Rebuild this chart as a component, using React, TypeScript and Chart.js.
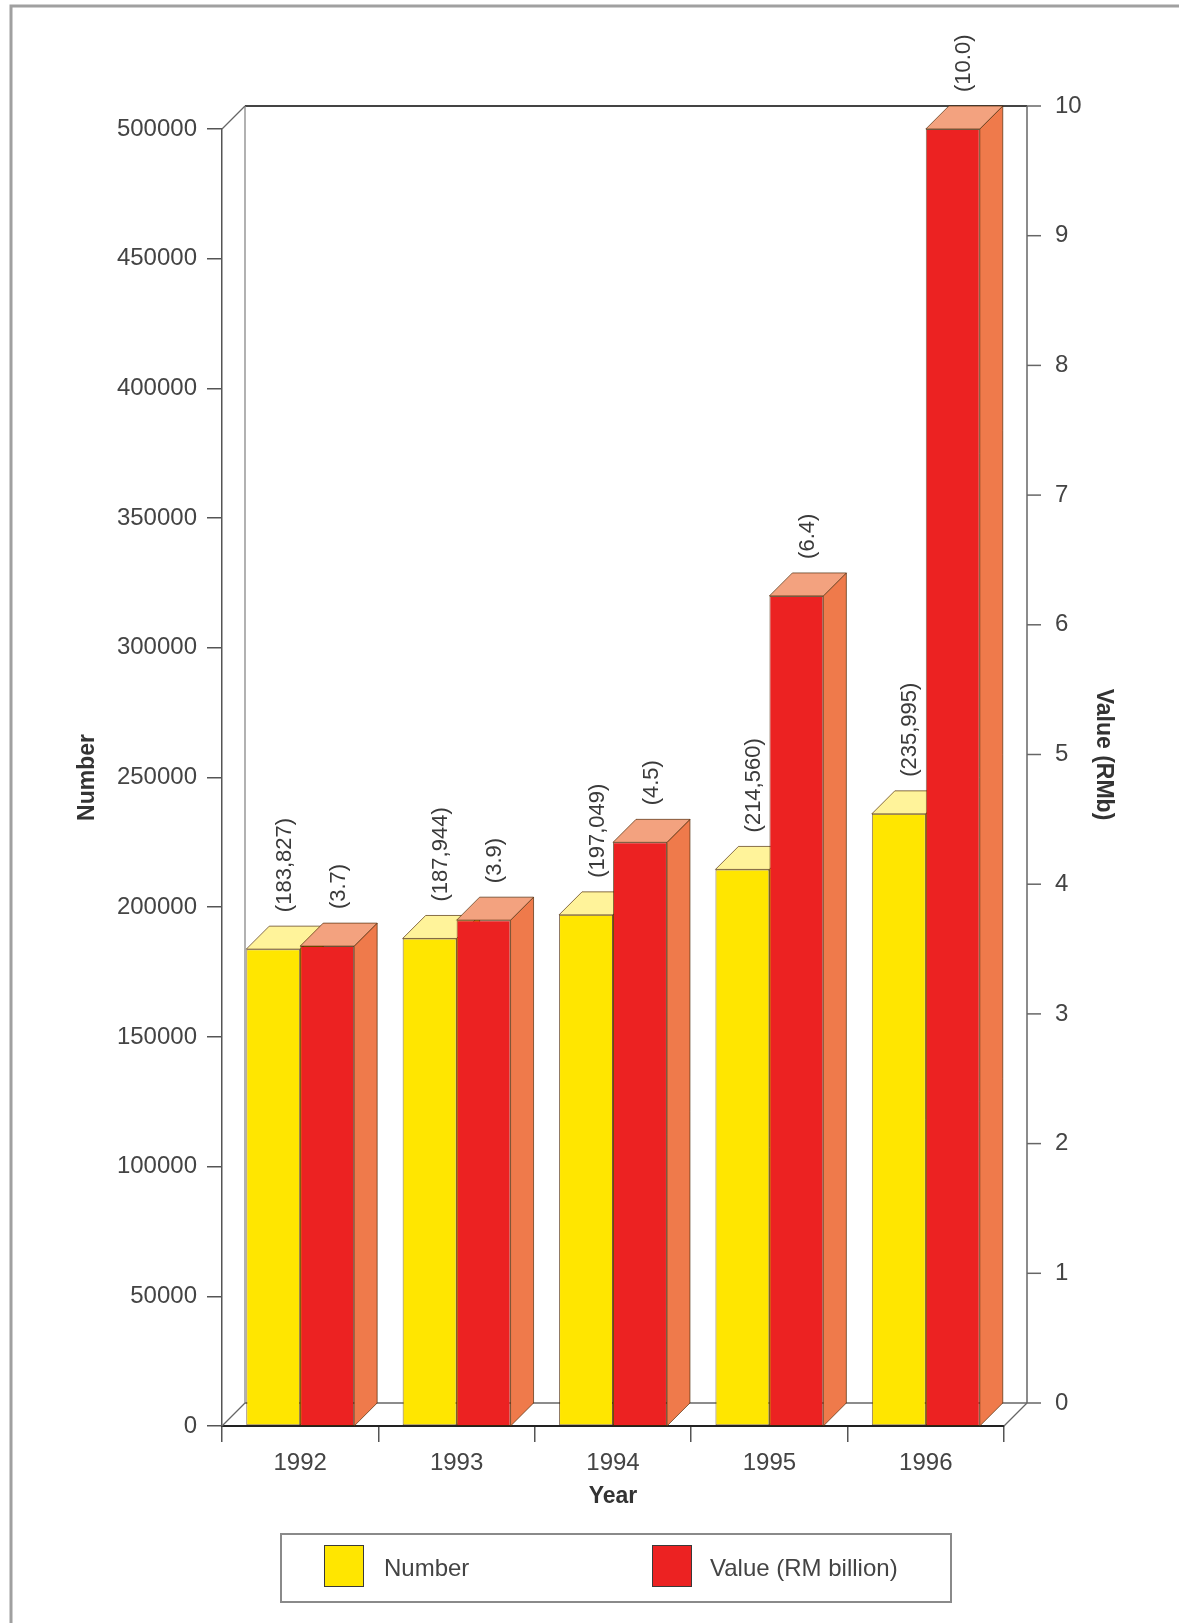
import React, { useEffect, useRef } from "react";
import { Chart, registerables } from "chart.js";

Chart.register(...registerables);

// ---- data ----
const years = ["1992", "1993", "1994", "1995", "1996"];
const numberOfUnits = [183827, 187944, 197049, 214560, 235995];
const valueRMBillion = [3.7, 3.9, 4.5, 6.4, 10.0];
const seriesLabels = ["Number", "Value (RM billion)"];
const numberAxisTicks = [0, 50000, 100000, 150000, 200000, 250000, 300000, 350000, 400000, 450000, 500000];
const valueAxisTicks = [0, 1, 2, 3, 4, 5, 6, 7, 8, 9, 10];

// ---- styling ----
const FONT = "'Liberation Sans', Arial, Helvetica, sans-serif";
const DEPTH_X = 23;
const DEPTH_Y = 23;
const frontColors = ["#FFE600", "#EC2222"];
const topColors = ["#FFF39A", "#F3A27F"];
const sideColors = ["#F2D200", "#EF7A4B"];
const edgeColor = "rgba(70,35,0,0.65)";

function poly(ctx: CanvasRenderingContext2D, pts: number[][], fill: string) {
  ctx.beginPath();
  ctx.moveTo(pts[0][0], pts[0][1]);
  for (let i = 1; i < pts.length; i++) ctx.lineTo(pts[i][0], pts[i][1]);
  ctx.closePath();
  ctx.fillStyle = fill;
  ctx.fill();
  ctx.strokeStyle = edgeColor;
  ctx.lineWidth = 1;
  ctx.stroke();
}

function line(ctx: CanvasRenderingContext2D, x1: number, y1: number, x2: number, y2: number, color: string, w: number) {
  ctx.beginPath();
  ctx.moveTo(x1, y1);
  ctx.lineTo(x2, y2);
  ctx.strokeStyle = color;
  ctx.lineWidth = w;
  ctx.stroke();
}

const box3d = {
  id: "box3d",
  beforeDraw(chart: any) {
    const ctx = chart.ctx as CanvasRenderingContext2D;
    ctx.save();
    ctx.fillStyle = "#ffffff";
    ctx.fillRect(0, 0, chart.width, chart.height);
    // sheet edge
    ctx.strokeStyle = "#a0a0a0";
    ctx.lineWidth = 3;
    ctx.beginPath();
    ctx.moveTo(11, chart.height);
    ctx.lineTo(11, 6);
    ctx.lineTo(chart.width, 6);
    ctx.stroke();
    ctx.restore();
  },
  beforeDatasetsDraw(chart: any) {
    const ctx = chart.ctx as CanvasRenderingContext2D;
    const a = chart.chartArea;
    ctx.save();
    // back wall and floor
    const bl = a.left + DEPTH_X, br = a.right + DEPTH_X;
    const bt = a.top - DEPTH_Y, bb = a.bottom - DEPTH_Y;
    line(ctx, bl, bt, br, bt, "#444", 2);
    line(ctx, bl, bt, bl, bb, "#888", 1.3);
    line(ctx, bl, bb, br, bb, "#666", 1.5);
    line(ctx, a.left, a.top, bl, bt, "#666", 1.3);
    line(ctx, a.left, a.bottom, bl, bb, "#666", 1.3);
    line(ctx, a.right, a.bottom, br, bb, "#666", 1.3);

    // bars: front face from the library, then side and top faces
    chart.data.datasets.forEach((_ds: any, di: number) => {
      const meta = chart.getDatasetMeta(di);
      meta.data.forEach((el: any) => {
        const { x, y, base, width } = el.getProps(["x", "y", "base", "width"], true);
        const l = x - width / 2;
        const r = x + width / 2;
        el.draw(ctx);
        poly(ctx, [[r, y], [r + DEPTH_X, y - DEPTH_Y], [r + DEPTH_X, base - DEPTH_Y], [r, base]], sideColors[di]);
        poly(ctx, [[l, y], [r, y], [r + DEPTH_X, y - DEPTH_Y], [l + DEPTH_X, y - DEPTH_Y]], topColors[di]);
      });
    });
    ctx.restore();
    return false;
  },
  afterDraw(chart: any) {
    const ctx = chart.ctx as CanvasRenderingContext2D;
    const a = chart.chartArea;
    ctx.save();

    // value labels above the bars
    ctx.font = `22px ${FONT}`;
    ctx.fillStyle = "#3a3a3a";
    ctx.textAlign = "left";
    ctx.textBaseline = "middle";
    chart.data.datasets.forEach((ds: any, di: number) => {
      const meta = chart.getDatasetMeta(di);
      meta.data.forEach((el: any, i: number) => {
        const v = ds.data[i] as number;
        const txt = di === 0 ? `(${v.toLocaleString("en-US")})` : `(${v.toFixed(1)})`;
        const { x, y } = el.getProps(["x", "y"], true);
        ctx.save();
        ctx.translate(x + DEPTH_X / 2, y - DEPTH_Y - 14);
        ctx.rotate(-Math.PI / 2);
        ctx.fillText(txt, 0, 0);
        ctx.restore();
      });
    });

    // value axis on the back wall
    const y1 = chart.scales.y1;
    const ax = a.right + DEPTH_X;
    const top = y1.getPixelForValue(valueAxisTicks[valueAxisTicks.length - 1]) - DEPTH_Y;
    const bottom = y1.getPixelForValue(valueAxisTicks[0]) - DEPTH_Y;
    line(ctx, ax, top, ax, bottom, "#666", 1.5);
    ctx.font = `24px ${FONT}`;
    ctx.fillStyle = "#444";
    ctx.textAlign = "left";
    ctx.textBaseline = "middle";
    valueAxisTicks.forEach((t) => {
      const py = y1.getPixelForValue(t) - DEPTH_Y;
      line(ctx, ax, py, ax + 14, py, "#666", 1.5);
      ctx.fillText(String(t), ax + 28, py);
    });
    ctx.save();
    ctx.translate(1103, (top + bottom) / 2);
    ctx.rotate(Math.PI / 2);
    ctx.font = `bold 23px ${FONT}`;
    ctx.fillStyle = "#333";
    ctx.textAlign = "center";
    ctx.fillText("Value (RMb)", 0, 0);
    ctx.restore();

    ctx.restore();
  },
};

export default function App() {
  const canvasRef = useRef<HTMLCanvasElement | null>(null);

  useEffect(() => {
    if (!canvasRef.current) return;
    const chart = new Chart(canvasRef.current, {
      type: "bar",
      data: {
        labels: years,
        datasets: [
          {
            label: seriesLabels[0],
            data: numberOfUnits,
            yAxisID: "y",
            backgroundColor: frontColors[0],
            borderColor: edgeColor,
            borderWidth: 1,
            borderSkipped: false,
          },
          {
            label: seriesLabels[1],
            data: valueRMBillion,
            yAxisID: "y1",
            backgroundColor: frontColors[1],
            borderColor: edgeColor,
            borderWidth: 1,
            borderSkipped: false,
          },
        ],
      },
      options: {
        responsive: false,
        animation: false,
        devicePixelRatio: 1,
        events: [],
        datasets: { bar: { categoryPercentage: 0.69, barPercentage: 1.0 } },
        layout: { padding: { top: 129, right: 175, bottom: 107, left: 0 } },
        plugins: { legend: { display: false }, tooltip: { enabled: false } },
        scales: {
          x: {
            type: "category",
            afterFit: (s: any) => { s.height = 90; },
            grid: { offset: true, drawOnChartArea: false, drawTicks: true, tickLength: 16, color: "#555", lineWidth: 1.5 },
            border: { display: true, color: "#222", width: 2 },
            ticks: { font: { family: FONT, size: 24 }, color: "#444", padding: 7 },
            title: { display: true, text: "Year", font: { family: FONT, size: 23, weight: "bold" }, color: "#333", padding: { top: 0, bottom: 6 } },
          },
          y: {
            position: "left",
            min: numberAxisTicks[0],
            max: numberAxisTicks[numberAxisTicks.length - 1],
            afterFit: (s: any) => { s.width = 222; },
            afterBuildTicks: (s: any) => { s.ticks = numberAxisTicks.map((v) => ({ value: v })); },
            grid: { drawOnChartArea: false, drawTicks: true, tickLength: 15, color: "#555", lineWidth: 1.5 },
            border: { display: true, color: "#555", width: 1.5 },
            ticks: { font: { family: FONT, size: 24 }, color: "#444", padding: 10, callback: (v: any) => String(v) },
            title: { display: true, text: "Number", font: { family: FONT, size: 23, weight: "bold" }, color: "#333", padding: { top: 74, bottom: 0 } },
          },
          y1: {
            position: "right",
            min: valueAxisTicks[0],
            max: valueAxisTicks[valueAxisTicks.length - 1],
            afterFit: (s: any) => { s.width = 0; },
            grid: { display: false },
            border: { display: false },
            ticks: { display: false, stepSize: 1 },
          },
        },
      } as any,
      plugins: [box3d],
    });
    return () => chart.destroy();
  }, []);

  const swatch = (color: string, left: number) => ({
    position: "absolute" as const,
    left,
    top: 1545,
    width: 40,
    height: 42,
    background: color,
    border: "1.5px solid #3a3a3a",
    boxSizing: "border-box" as const,
  });
  const legendText = (left: number) => ({
    position: "absolute" as const,
    left,
    top: 1553,
    fontFamily: FONT,
    fontSize: 24,
    lineHeight: "30px",
    color: "#444",
    whiteSpace: "nowrap" as const,
  });

  return (
    <div style={{ position: "absolute", left: 0, top: 0, width: 1179, height: 1623, background: "#fff", overflow: "hidden" }}>
      <canvas ref={canvasRef} width={1179} height={1623} style={{ position: "absolute", left: 0, top: 0 }} />
      <div
        style={{
          position: "absolute",
          left: 280,
          top: 1533,
          width: 672,
          height: 70,
          border: "2px solid #8a8a8a",
          boxSizing: "border-box",
        }}
      />
      <div style={swatch(frontColors[0], 324)} />
      <div style={legendText(384)}>{seriesLabels[0]}</div>
      <div style={swatch(frontColors[1], 652)} />
      <div style={legendText(710)}>{seriesLabels[1]}</div>
    </div>
  );
}
